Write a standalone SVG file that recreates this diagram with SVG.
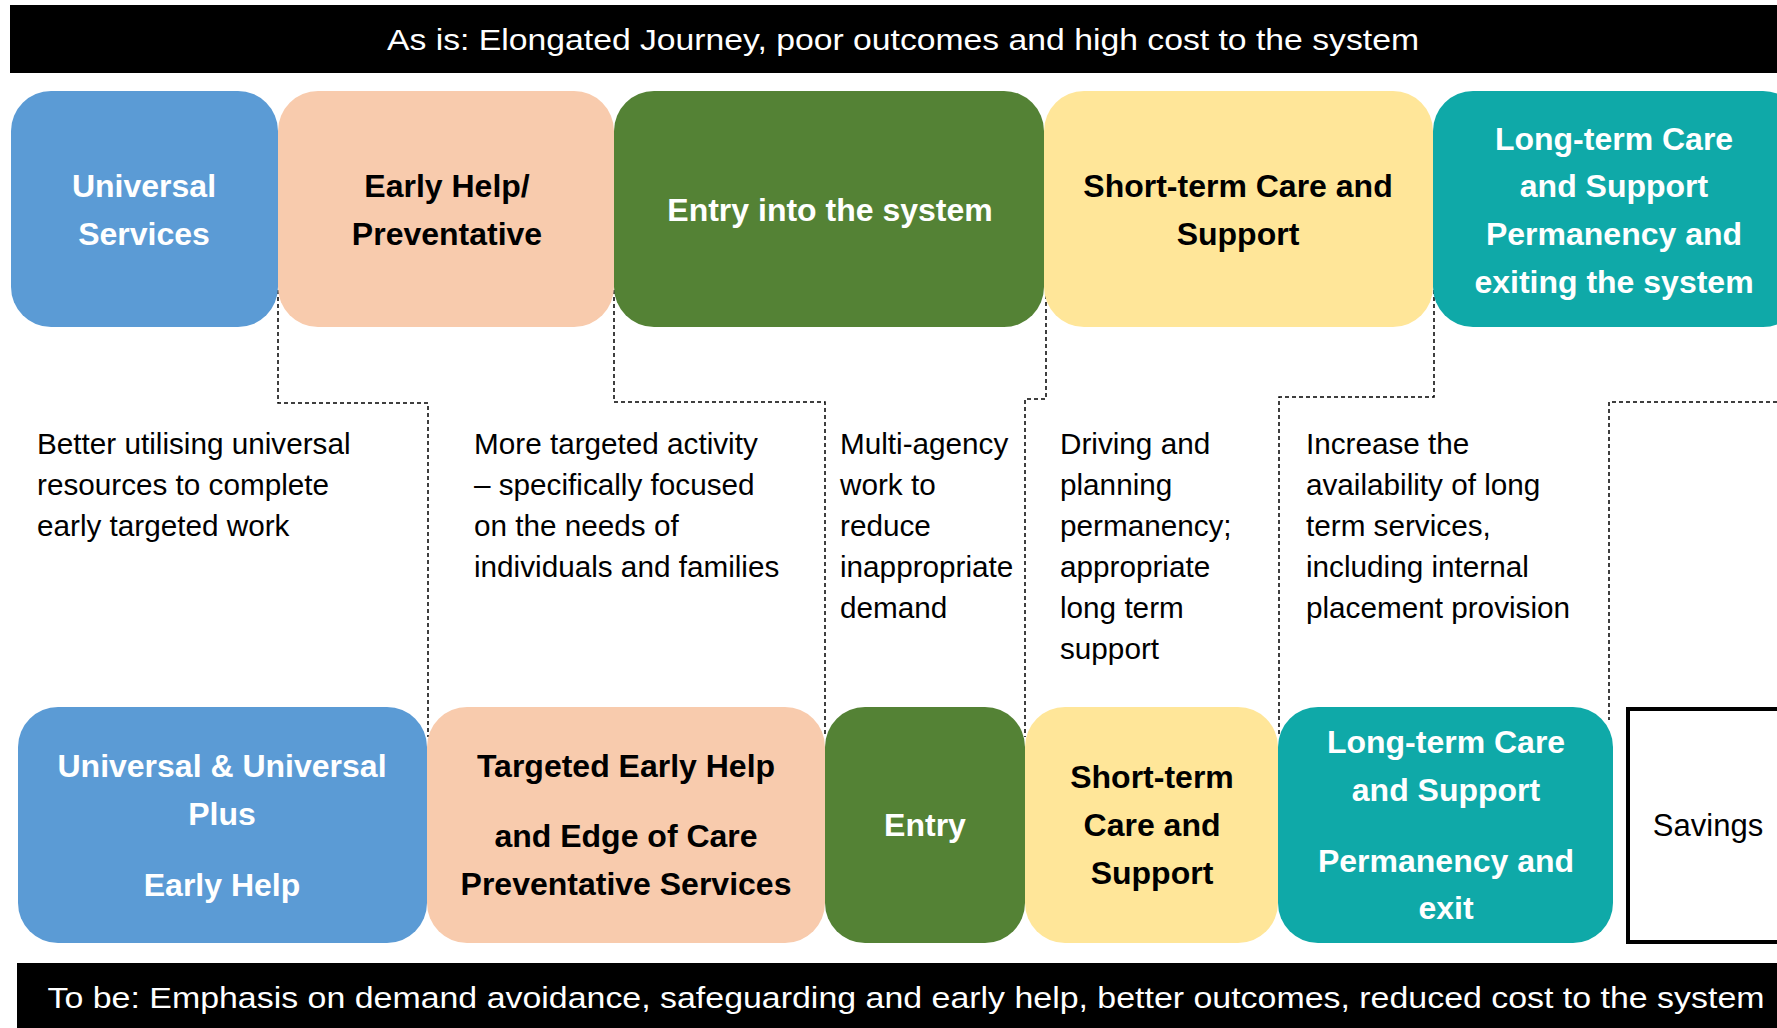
<svg xmlns="http://www.w3.org/2000/svg" width="1777" height="1028" viewBox="0 0 1777 1028">
<style>
.bar{fill:#000}
.bt{font-family:"Liberation Sans",Arial,sans-serif;font-size:30px;fill:#fff}
.hd{font-family:"Liberation Sans",Arial,sans-serif;font-size:32px;font-weight:bold;text-anchor:middle}
.w{fill:#fff}
.k{fill:#000}
.note{font-family:"Liberation Sans",Arial,sans-serif;font-size:29.7px;fill:#000}
.dash{fill:none;stroke:#000;stroke-width:1.5;stroke-dasharray:4 3}
.blue{fill:#5B9BD5}
.peach{fill:#F8CBAD}
.green{fill:#548235}
.yellow{fill:#FFE699}
.teal{fill:#0FA9A8}
</style>
<rect width="1777" height="1028" fill="#fff"/>
<g id="top-bar">
<rect class="bar" x="10" y="5" width="1767" height="68"/>
<text class="bt" x="903" y="50" text-anchor="middle" textLength="1032" lengthAdjust="spacingAndGlyphs">As is: Elongated Journey, poor outcomes and high cost to the system</text>
</g>
<g id="connectors">
<path class="dash" d="M278,290 V403 H428 V737"/>
<path class="dash" d="M614,290 V402 H825 V737"/>
<path class="dash" d="M1046,295 V399 H1025 V737"/>
<path class="dash" d="M1434,290 V397 H1279 V737"/>
<path class="dash" d="M1777,402 H1609 V720"/>
</g>
<g id="top-universal">
<rect class="blue" x="11" y="91" width="267" height="236" rx="40"/>
<text class="hd w" x="144" y="197">Universal</text>
<text class="hd w" x="144" y="245">Services</text>
</g>
<g id="top-early-help">
<rect class="peach" x="278" y="91" width="336" height="236" rx="40"/>
<text class="hd k" x="447" y="197">Early Help/</text>
<text class="hd k" x="447" y="245">Preventative</text>
</g>
<g id="top-entry">
<rect class="green" x="614" y="91" width="430" height="236" rx="40"/>
<text class="hd w" x="830" y="221">Entry into the system</text>
</g>
<g id="top-short-term">
<rect class="yellow" x="1044" y="91" width="389" height="236" rx="40"/>
<text class="hd k" x="1238" y="197">Short-term Care and</text>
<text class="hd k" x="1238" y="245">Support</text>
</g>
<g id="top-long-term">
<rect class="teal" x="1433" y="91" width="370" height="236" rx="40"/>
<text class="hd w" x="1614" y="150">Long-term Care</text>
<text class="hd w" x="1614" y="197">and Support</text>
<text class="hd w" x="1614" y="245">Permanency and</text>
<text class="hd w" x="1614" y="293">exiting the system</text>
</g>
<g id="note-1">
<text class="note" x="37" y="454">Better utilising universal</text>
<text class="note" x="37" y="495">resources to complete</text>
<text class="note" x="37" y="536">early targeted work</text>
</g>
<g id="note-2">
<text class="note" x="474" y="454">More targeted activity</text>
<text class="note" x="474" y="495">– specifically focused</text>
<text class="note" x="474" y="536">on the needs of</text>
<text class="note" x="474" y="577">individuals and families</text>
</g>
<g id="note-3">
<text class="note" x="840" y="454">Multi-agency</text>
<text class="note" x="840" y="495">work to</text>
<text class="note" x="840" y="536">reduce</text>
<text class="note" x="840" y="577">inappropriate</text>
<text class="note" x="840" y="618">demand</text>
</g>
<g id="note-4">
<text class="note" x="1060" y="454">Driving and</text>
<text class="note" x="1060" y="495">planning</text>
<text class="note" x="1060" y="536">permanency;</text>
<text class="note" x="1060" y="577">appropriate</text>
<text class="note" x="1060" y="618">long term</text>
<text class="note" x="1060" y="659">support</text>
</g>
<g id="note-5">
<text class="note" x="1306" y="454">Increase the</text>
<text class="note" x="1306" y="495">availability of long</text>
<text class="note" x="1306" y="536">term services,</text>
<text class="note" x="1306" y="577">including internal</text>
<text class="note" x="1306" y="618">placement provision</text>
</g>
<g id="bottom-universal">
<rect class="blue" x="18" y="707" width="409" height="236" rx="40"/>
<text class="hd w" x="222" y="777">Universal &amp; Universal</text>
<text class="hd w" x="222" y="825">Plus</text>
<text class="hd w" x="222" y="896">Early Help</text>
</g>
<g id="bottom-targeted">
<rect class="peach" x="427" y="707" width="398" height="236" rx="40"/>
<text class="hd k" x="626" y="777">Targeted Early Help</text>
<text class="hd k" x="626" y="847">and Edge of Care</text>
<text class="hd k" x="626" y="895">Preventative Services</text>
</g>
<g id="bottom-entry">
<rect class="green" x="825" y="707" width="200" height="236" rx="40"/>
<text class="hd w" x="925" y="836">Entry</text>
</g>
<g id="bottom-short-term">
<rect class="yellow" x="1025" y="707" width="253" height="236" rx="40"/>
<text class="hd k" x="1152" y="788">Short-term</text>
<text class="hd k" x="1152" y="836">Care and</text>
<text class="hd k" x="1152" y="884">Support</text>
</g>
<g id="bottom-long-term">
<rect class="teal" x="1278" y="707" width="335" height="236" rx="40"/>
<text class="hd w" x="1446" y="753">Long-term Care</text>
<text class="hd w" x="1446" y="801">and Support</text>
<text class="hd w" x="1446" y="872">Permanency and</text>
<text class="hd w" x="1446" y="919">exit</text>
</g>
<g id="savings">
<rect x="1628" y="709" width="200" height="233" fill="#fff" stroke="#000" stroke-width="4"/>
<text x="1708" y="836" text-anchor="middle" font-family="'Liberation Sans',Arial,sans-serif" font-size="31" fill="#000">Savings</text>
</g>
<g id="bottom-bar">
<rect class="bar" x="17" y="963" width="1760" height="65"/>
<text class="bt" x="906" y="1008" text-anchor="middle" textLength="1717" lengthAdjust="spacingAndGlyphs">To be: Emphasis on demand avoidance, safeguarding and early help, better outcomes, reduced cost to the system</text>
</g>
</svg>
